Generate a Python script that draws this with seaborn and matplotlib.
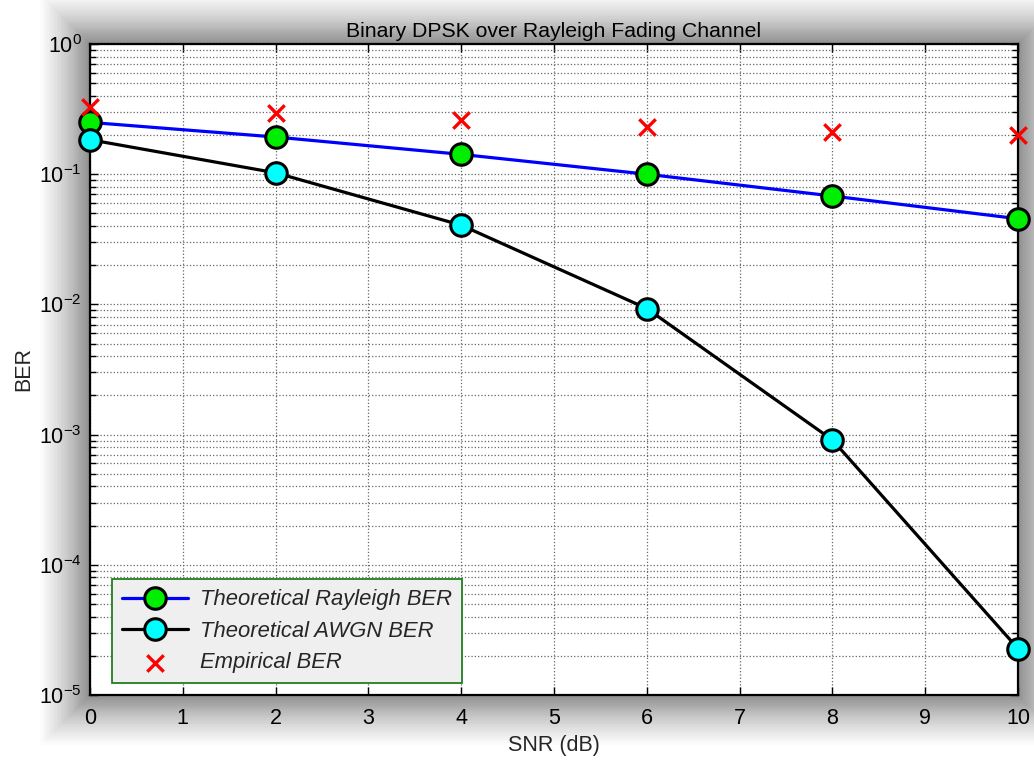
import numpy as np
import pandas as pd
import matplotlib
matplotlib.use("Agg")
import matplotlib.pyplot as plt
from matplotlib.patches import Rectangle
from matplotlib.ticker import LogLocator, FixedLocator
import seaborn as sns

snr_db = [0, 2, 4, 6, 8, 10]
ber_rayleigh = [0.25, 0.193, 0.142, 0.100, 0.068, 0.0455]
ber_awgn = [0.184, 0.1025, 0.0406, 0.0093, 0.00091, 2.27e-5]
ber_empirical = [0.33, 0.293, 0.26, 0.23, 0.21, 0.20]
x_ticks = list(range(0, 11))
labels = ["Theoretical Rayleigh BER", "Theoretical AWGN BER", "Empirical BER"]

sns.set_style("white")
plt.rcParams['font.family'] = ['Liberation Sans', 'DejaVu Sans']
plt.rcParams['mathtext.default'] = 'regular'

W, H = 1034, 761
fig = plt.figure(figsize=(W / 100, H / 100), dpi=100)
l, r, t, b = 90, 1018, 44, 695
ax = fig.add_axes([l / W, 1 - b / H, (r - l) / W, (b - t) / H])
ax.set_zorder(2)

# soft shadow around axes (layers denser near the axes, sparse and faint outward)
n = 45
for i in range(n, 0, -1):
    frac = i / n
    d = 50 * frac ** 1.6
    fig.patches.append(Rectangle(((l - d) / W, 1 - (b + d) / H), (r - l + 2 * d) / W, (b - t + 2 * d) / H,
                                 transform=fig.transFigure, facecolor='black', edgecolor='none',
                                 alpha=0.011, zorder=0))

df = pd.DataFrame({"snr": snr_db, "ray": ber_rayleigh, "awgn": ber_awgn, "emp": ber_empirical})

sns.lineplot(data=df, x="snr", y="ray", ax=ax, color='#0000ff', lw=2.3, marker='o', markersize=15.5,
             markerfacecolor='#00ee00', markeredgecolor='black', markeredgewidth=2.2, label=labels[0],
             clip_on=False, zorder=4)
sns.lineplot(data=df, x="snr", y="awgn", ax=ax, color='black', lw=2.3, marker='o', markersize=15.5,
             markerfacecolor='#00ffff', markeredgecolor='black', markeredgewidth=2.2, label=labels[1],
             clip_on=False, zorder=4)
sns.scatterplot(data=df, x="snr", y="emp", ax=ax, color='#ff0000', marker='x', s=140, linewidth=2.4,
                label=labels[2], clip_on=False, zorder=5)

ax.set_yscale('log')
ax.set_xlim(0, 10)
ax.set_ylim(1e-5, 1)
ax.xaxis.set_major_locator(FixedLocator(x_ticks))
ax.yaxis.set_major_locator(LogLocator(base=10, numticks=10))
ax.yaxis.set_minor_locator(LogLocator(base=10, subs=np.arange(2, 10), numticks=20))
ax.grid(True, which='major', axis='both', linestyle=':', color='#666666', linewidth=0.9)
ax.grid(True, which='minor', axis='y', linestyle=':', color='#666666', linewidth=0.9)
ax.tick_params(which='both', direction='in', top=True, right=True, bottom=True, left=True,
               labelsize=15.5, colors='black', width=1.0)
ax.tick_params(which='major', length=6)
ax.tick_params(which='minor', length=4)
ax.tick_params(axis='x', pad=9)
ax.tick_params(axis='y', pad=6)
for s in ax.spines.values():
    s.set_visible(True)
    s.set_color('black')
    s.set_linewidth(1.6)

ax.set_title("Binary DPSK over Rayleigh Fading Channel", fontsize=15.3, pad=5, color='black')
ax.set_xlabel("SNR (dB)", fontsize=15.5, labelpad=5)
ax.set_ylabel("BER", fontsize=15.5, labelpad=3)

leg = ax.legend(loc='lower left', bbox_to_anchor=(0.0237, 0.018), fancybox=False, frameon=True,
                prop={'style': 'italic', 'size': 15.8, 'family': 'Liberation Sans'},
                handlelength=3.0, borderpad=0.45, labelspacing=0.48, handletextpad=0.55,
                borderaxespad=0.0, markerscale=1.0)
leg.get_frame().set_facecolor('#efefef')
leg.get_frame().set_edgecolor('#208020')
leg.get_frame().set_linewidth(1.3)
leg.get_frame().set_alpha(1.0)
leg.set_zorder(10)

fig.savefig("out.png", dpi=100)
